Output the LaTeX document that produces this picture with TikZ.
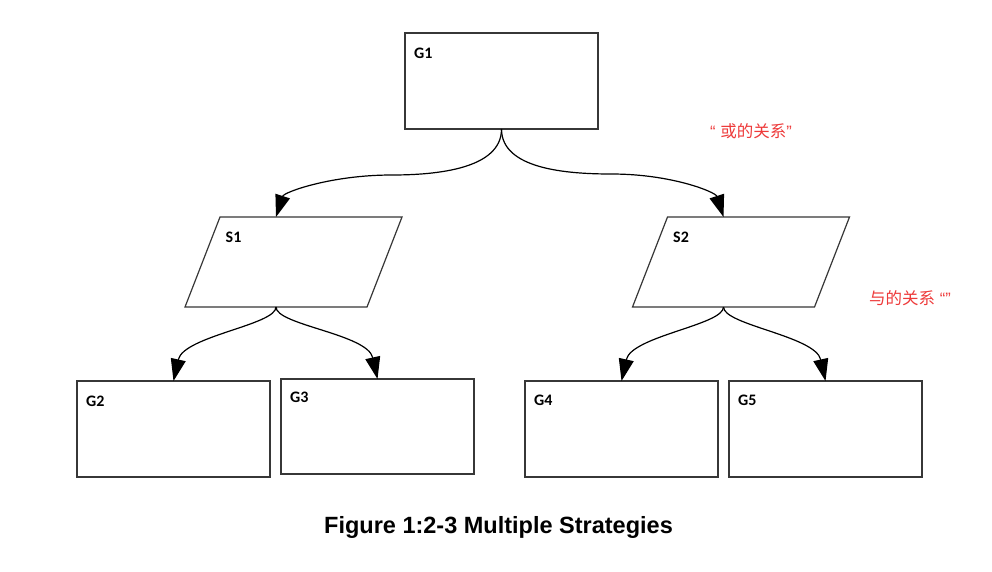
\documentclass[tikz,border=0pt]{standalone}
\usepackage{fontspec}
\setmainfont{Liberation Sans}
\newfontfamily\lab{Carlito}
\newfontfamily\cjk{Noto Sans CJK SC}
\usetikzlibrary{arrows.meta,calc}
\definecolor{redtxt}{RGB}{238,58,58}
\definecolor{edge}{RGB}{55,55,55}
\tikzset{
  goalbox/.style={draw=edge, line width=1.2pt, rectangle, minimum width=193pt, minimum height=96pt, inner sep=0pt, outer sep=0pt},
  stratframe/.style={rectangle, minimum width=217pt, minimum height=90pt, inner sep=0pt, outer sep=0pt},
  pgram/.style={draw=edge, line width=1.2pt, line join=miter},
  lbl/.style={anchor=base west, inner sep=0pt, font=\lab\bfseries\fontsize{16}{18}\selectfont},
  conn/.style={draw=black, line width=1.2pt, -{Triangle[length=22pt,width=15pt]}},
  note/.style={anchor=west, inner sep=0pt, text=redtxt, font=\fontsize{16.5}{19}\selectfont}
}
\begin{document}
\begin{tikzpicture}[x=1pt,y=-1pt]
\useasboundingbox[fill=white] (0,0) rectangle (992,571);
% goals
\node[goalbox] (G1) at (501.5,81) {};
\node[goalbox] (G2) at (173.5,429) {};
\node[goalbox, minimum height=95pt] (G3) at (377.5,426.5) {};
\node[goalbox] (G4) at (621.5,429) {};
\node[goalbox] (G5) at (825.5,429) {};
% strategies (parallelograms)
\node[stratframe] (S1) at (293.5,262) {};
\node[stratframe] (S2) at (741,262) {};
\draw[pgram] ([xshift=35pt]S1.north west) -- (S1.north east) -- ([xshift=-35pt]S1.south east) -- (S1.south west) -- cycle;
\draw[pgram] ([xshift=35pt]S2.north west) -- (S2.north east) -- ([xshift=-35pt]S2.south east) -- (S2.south west) -- cycle;
\coordinate (S1top) at ([xshift=-17.5pt]S1.north);
\coordinate (S1out) at ([xshift=-17.5pt]S1.south);
\coordinate (S2top) at ([xshift=-17.5pt]S2.north);
\coordinate (S2out) at ([xshift=-17.5pt]S2.south);
% labels
\node[lbl] (lG1) at (414,58) {G1};
\node[lbl] (lS1) at (225.5,242) {S1};
\node[lbl] (lS2) at (673,242) {S2};
\node[lbl] (lG2) at (86,406) {G2};
\node[lbl] (lG3) at (290,402.5) {G3};
\node[lbl] (lG4) at (534,405.5) {G4};
\node[lbl] (lG5) at (738,405.5) {G5};
% connectors
\draw[conn] (G1.south) .. controls +(0,40) and +(45,0) .. ++(-110,46) .. controls +(-60,0) and +(8,-25) .. (S1top);
\draw[conn] (G1.south) .. controls +(0,40) and +(-45,0) .. ++(110,45) .. controls +(60,0) and +(-8,-25) .. (S2top);
\draw[conn] (S1out) .. controls +(0,18) and +(10,-45) .. (G2.north);
\draw[conn] (S1out) .. controls +(0,18) and +(-10,-45) .. (G3.north);
\draw[conn] (S2out) .. controls +(0,18) and +(10,-45) .. (G4.north);
\draw[conn] (S2out) .. controls +(0,18) and +(-10,-45) .. (G5.north);
% notes
\node[note] (n1) at (710,131) {“ {\cjk 或的关系}”};
\node[note] (n2) at (869,298) {{\cjk 与的关系} “”};
% caption
\node[anchor=base, inner sep=0pt, font=\bfseries\fontsize{23.5}{28}\selectfont] (cap) at (498.5,533) {Figure 1:2-3 Multiple Strategies};
\end{tikzpicture}
\end{document}
